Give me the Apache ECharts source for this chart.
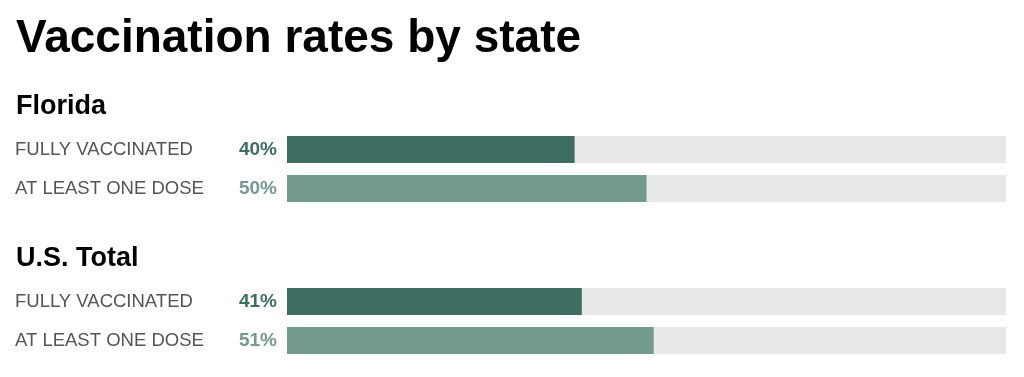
<!DOCTYPE html>
<html><head><meta charset="utf-8">
<script src="https://cdn.jsdelivr.net/npm/echarts@6/dist/echarts.min.js"></script>
<style>html,body{margin:0;padding:0;background:#fff}#c{width:1024px;height:377px}</style>
</head><body><div id="c"></div>
<script>
const categories = ['FULLY VACCINATED', 'AT LEAST ONE DOSE'];
const groups = ['Florida', 'U.S. Total'];
const floridaValues = [40, 50];
const usValues = [41, 51];
const barColors = ['#3e6d61', '#729a8f'];

const chart = echarts.init(document.getElementById('c'), null, {renderer: 'canvas'});
const font = 'Liberation Sans, Arial, Helvetica, sans-serif';
const gridTops = [130, 282];
const valuesList = [floridaValues, usValues];

const grids = gridTops.map(t => ({left: 287, right: 18, top: t, height: 78}));
const xAxes = grids.map((g, i) => ({type: 'value', gridIndex: i, min: 0, max: 100, show: false}));
const yAxes = grids.map((g, i) => ({
  type: 'category', gridIndex: i, data: categories, inverse: true,
  axisLine: {show: false}, axisTick: {show: false}, splitLine: {show: false},
  axisLabel: {align: 'left', margin: 272, fontSize: 18.5, color: '#555', fontFamily: font}
}));
const series = valuesList.map((vals, i) => ({
  type: 'bar', xAxisIndex: i, yAxisIndex: i, barWidth: 27,
  showBackground: true, backgroundStyle: {color: '#e8e8e8'},
  data: vals.map((v, j) => ({value: v, itemStyle: {color: barColors[j]},
    label: {color: barColors[j]}})),
  label: {show: true, position: 'left', distance: 10, formatter: '{c}%',
    fontSize: 19, fontWeight: 'bold', fontFamily: font},
  silent: true, animation: false
}));

chart.setOption({
  backgroundColor: '#fff',
  animation: false,
  title: [
    {text: 'Vaccination rates by state', left: 11, top: 11,
     textStyle: {fontSize: 46, fontWeight: 'bold', color: '#000', fontFamily: font}},
    {text: groups[0], left: 11, top: 88,
     textStyle: {fontSize: 27, fontWeight: 'bold', color: '#000', fontFamily: font}},
    {text: groups[1], left: 11, top: 240,
     textStyle: {fontSize: 27, fontWeight: 'bold', color: '#000', fontFamily: font}}
  ],
  grid: grids, xAxis: xAxes, yAxis: yAxes, series: series
});
</script></body></html>
